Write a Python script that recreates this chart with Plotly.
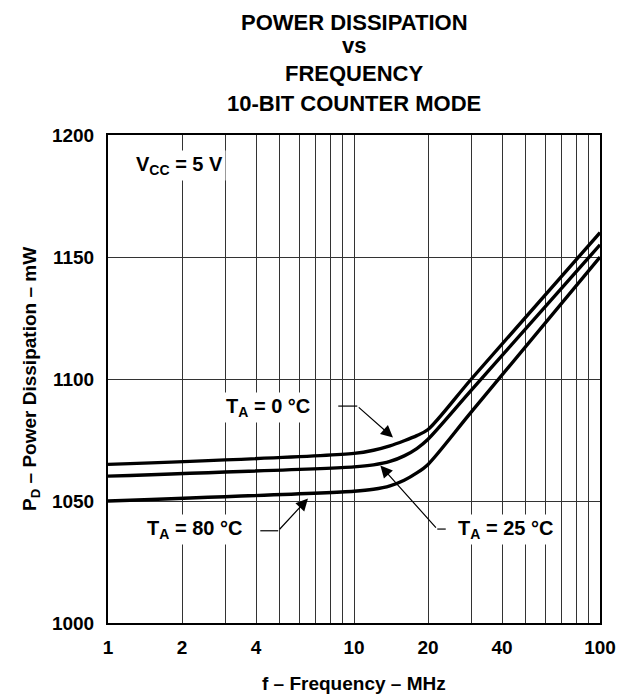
import numpy as np
import plotly.graph_objects as go

# ---- data ----
freq_mhz = [1, 10, 12, 14, 16, 18, 20, 30, 100]
pd_0c = [1065.0, 1069.5, 1070.8, 1072.6, 1074.7, 1076.8, 1079.3, 1100.0, 1160.0]
pd_25c = [1060.2, 1064.0, 1064.8, 1066.2, 1068.5, 1071.5, 1075.3, 1095.4, 1155.0]
pd_80c = [1050.0, 1054.0, 1054.8, 1056.2, 1058.5, 1061.5, 1065.0, 1086.5, 1150.0]

x_grid_vals = [1, 2, 3, 4, 5, 6, 7, 8, 9, 10, 20, 30, 40, 50, 60, 70, 80, 90, 100]
x_tick_text = ["1", "2", "", "4", "", "", "", "", "", "10", "20", "", "40", "", "", "", "", "", "100"]
y_tick_vals = [1000, 1050, 1100, 1150, 1200]

title_lines = ["POWER DISSIPATION", "vs", "FREQUENCY", "10-BIT COUNTER MODE"]

FONT = "Liberation Sans, Arial, Helvetica, sans-serif"

fig = go.Figure()
for vals, name in [(pd_0c, "TA = 0 °C"), (pd_25c, "TA = 25 °C"), (pd_80c, "TA = 80 °C")]:
    fig.add_trace(go.Scatter(
        x=freq_mhz, y=vals, mode="lines", name=name,
        line=dict(color="black", width=3.4, shape="spline", smoothing=0.8),
        showlegend=False, hoverinfo="x+y",
    ))

lx = np.log10


def label(x, y, text, xanchor):
    return dict(x=lx(x), y=y, xref="x", yref="y", text=text, showarrow=False,
                xanchor=xanchor, yanchor="middle", bgcolor="white", borderpad=2,
                font=dict(family=FONT, size=20, color="black", weight="bold"))


def arrow(tip, tail):
    return dict(x=lx(tip[0]), y=tip[1], ax=lx(tail[0]), ay=tail[1],
                xref="x", yref="y", axref="x", ayref="y", text="",
                showarrow=True, arrowhead=2, arrowsize=2.0, arrowwidth=1.2,
                arrowcolor="black", standoff=0)


PLOT_H = 488
TOP = 127


def title_line(text, fig_y, anchor):
    return dict(x=0.5, y=1 + (TOP - fig_y) / PLOT_H, xref="paper", yref="paper",
                showarrow=False, xanchor="center", yanchor=anchor, borderpad=0,
                text=text, font=dict(family=FONT, size=22, color="black", weight="bold"))


annotations = [
    label(1.264, 1187.3, "V<sub>CC</sub> = 5 V", "left"),
    label(6.83, 1088.5, "T<sub>A</sub> = 0 °C", "right"),
    label(3.61, 1038.5, "T<sub>A</sub> = 80 °C", "right"),
    label(25.8, 1038.5, "T<sub>A</sub> = 25 °C", "left"),
    arrow((14.4, 1076.0), (10.31, 1088.9)),
    arrow((6.5, 1051.0), (4.92, 1037.8)),
    arrow((12.8, 1064.5), (21.8, 1038.5)),
    # title lines
    title_line(title_lines[0], 0.5, "top"),
    title_line(title_lines[1], 37.5, "middle"),
    title_line(title_lines[2], 65.5, "middle"),
    title_line(title_lines[3], 95.5, "middle"),
    # axis titles
    dict(x=0.5, y=0, xref="paper", yref="paper", showarrow=False,
         xanchor="center", yanchor="middle", yshift=-60,
         text="f – Frequency – MHz",
         font=dict(family=FONT, size=19, color="black", weight="bold")),
    dict(x=0, y=0.5, xref="paper", yref="paper", showarrow=False,
         xanchor="center", yanchor="middle", xshift=-77, textangle=-90,
         text="P<sub>D</sub> – Power Dissipation – mW",
         font=dict(family=FONT, size=19, color="black", weight="bold")),
]

shapes = [
    dict(type="line", xref="x", yref="y", x0=8.63, x1=10.31, y0=1088.9, y1=1088.9,
         line=dict(color="black", width=1.2)),
    dict(type="line", xref="x", yref="y", x0=4.16, x1=4.92, y0=1037.8, y1=1037.8,
         line=dict(color="black", width=1.2)),
    dict(type="line", xref="x", yref="y", x0=21.8, x1=23.6, y0=1038.5, y1=1038.5,
         line=dict(color="black", width=1.2)),
]

axis_common = dict(
    showgrid=True, gridcolor="#333333", gridwidth=1,
    showline=True, linecolor="black", linewidth=2, mirror=True,
    ticks="", zeroline=False,
    tickfont=dict(family=FONT, size=19, color="black", weight="bold"),
)

# page body has an 8px margin, so the figure is sized to fit the 635x694 window
fig.update_layout(
    width=627, height=686, autosize=False,
    margin=dict(l=100, r=35, t=TOP, b=71),
    paper_bgcolor="white", plot_bgcolor="white",
    xaxis=dict(type="log", range=[0, 2], tickvals=x_grid_vals, ticktext=x_tick_text,
               ticklabelstandoff=6, **axis_common),
    yaxis=dict(range=[1000, 1200], tickvals=y_tick_vals, ticklabelstandoff=8,
               **axis_common),
    annotations=annotations,
    shapes=shapes,
)

fig.write_html("out.html")
